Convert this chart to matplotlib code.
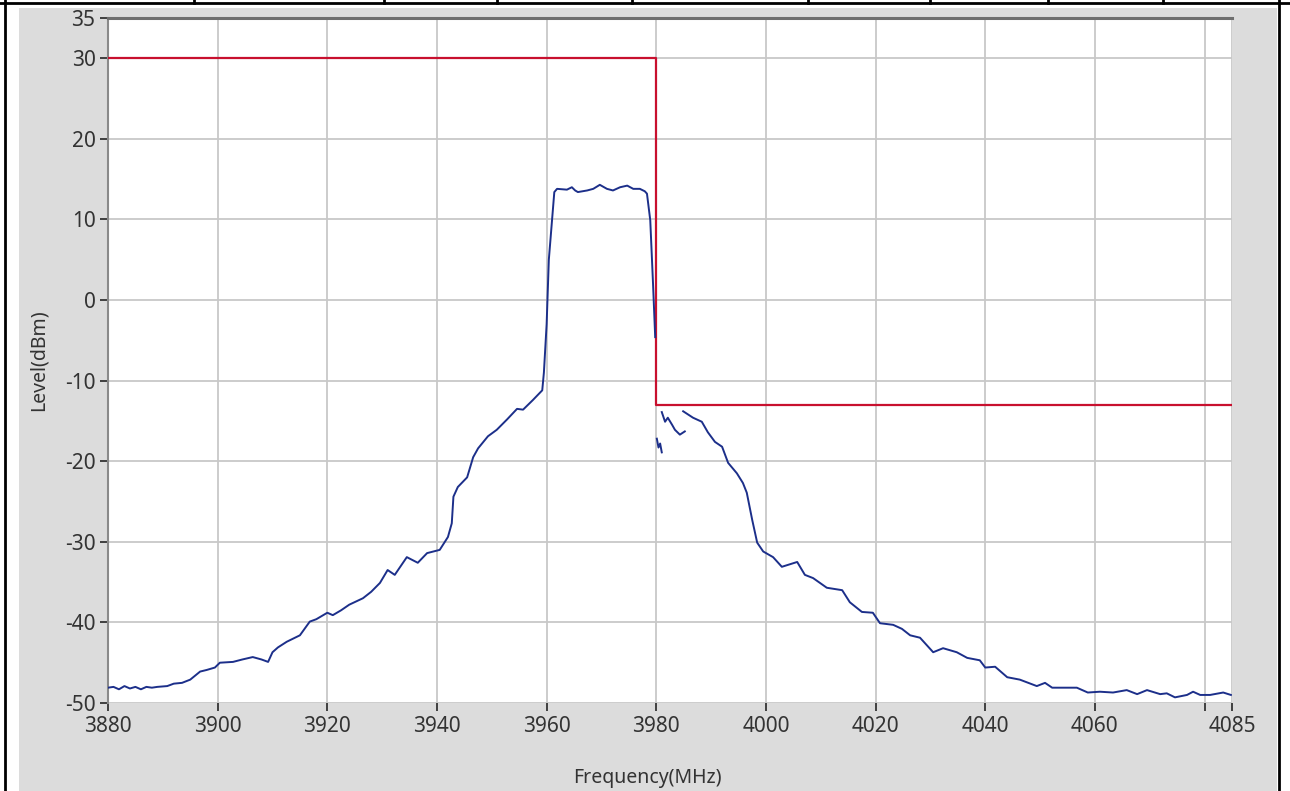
import numpy as np
import matplotlib.pyplot as plt
from matplotlib.patches import Rectangle
from matplotlib.lines import Line2D

plt.rcParams['font.family'] = ['Noto Sans', 'DejaVu Sans']
plt.rcParams['axes.unicode_minus'] = False

# spectrum trace (MHz, dBm); nan = gap in trace
trace_freq = [3880, 3881, 3882, 3883, 3884, 3885, 3886, 3887, 3888, 3889, 3890.8, 3892, 3893.5,
              3895, 3896.8, 3898, 3899.5, 3900.4, 3902.8, 3904.5, 3906.4, 3908, 3909.2, 3910,
              3911, 3912.6, 3915, 3916.8, 3918, 3920, 3921, 3922.5, 3924, 3926.5, 3928, 3929.6,
              3931, 3932.3, 3934.5, 3936.5, 3938.2, 3940.5, 3942, 3942.7, 3943, 3943.8, 3945.5,
              3946.6, 3947.5, 3949.3, 3950.9, 3952.8, 3954.6, 3955.7, 3957.5, 3959.2, 3959.5,
              3960.0, 3960.4, 3961.0, 3961.4, 3961.9, 3963.7, 3964.6, 3965.2, 3965.7, 3967.4,
              3968.5, 3969.7, 3971, 3972.1, 3973.4, 3974.7, 3975.8, 3977, 3977.9, 3978.3,
              3978.9, 3979.4, 3979.8,
              np.nan,
              3980.1, 3980.4, 3980.7, 3981.0,
              np.nan,
              3981.0, 3981.6, 3982.1, 3982.9, 3983.4, 3984.3, 3985.2,
              np.nan,
              3984.9, 3986.7, 3988.3, 3989.4, 3990.7, 3992, 3993.1, 3994.7, 3995.8, 3996.5,
              3997.5, 3998.4, 3999.5, 4001.3, 4002.9, 4005.7, 4007.1, 4008.6, 4011.1, 4013.9,
              4015.3, 4017.5, 4019.5, 4020.8, 4023.2, 4024.8, 4026.3, 4028.1, 4030.5, 4032.3,
              4034.8, 4036.7, 4039, 4040, 4041.8, 4044, 4046.3, 4049.4, 4050.9, 4052.2, 4054.9,
              4056.7, 4058.7, 4060.9, 4063.3, 4065.8, 4067.7, 4069.5, 4071.9, 4073.1, 4074.6,
              4076.8, 4077.9, 4079.2, 4081, 4083.4, 4084.8]
trace_level = [-48.1, -48.0, -48.3, -47.9, -48.2, -48.0, -48.3, -48.0, -48.1, -48.0, -47.9, -47.6, -47.5,
               -47.1, -46.1, -45.9, -45.6, -45.0, -44.9, -44.6, -44.3, -44.6, -44.9, -43.7,
               -43.1, -42.4, -41.6, -39.9, -39.6, -38.8, -39.1, -38.5, -37.8, -37.0, -36.2, -35.1,
               -33.5, -34.1, -31.9, -32.6, -31.4, -31.0, -29.4, -27.7, -24.4, -23.2, -22.0,
               -19.5, -18.4, -16.9, -16.1, -14.8, -13.5, -13.6, -12.4, -11.2, -9.0,
               -3.0, 5.0, 10.0, 13.4, 13.8, 13.7, 14.0, 13.6, 13.4, 13.6,
               13.8, 14.3, 13.8, 13.6, 14.0, 14.2, 13.8, 13.8, 13.5, 13.2,
               9.9, 2.1, -4.6,
               np.nan,
               -17.2, -18.3, -17.8, -18.9,
               np.nan,
               -13.9, -15.1, -14.6, -15.5, -16.1, -16.7, -16.3,
               np.nan,
               -13.8, -14.6, -15.1, -16.4, -17.6, -18.2, -20.2, -21.5, -22.7, -23.9,
               -27.3, -30.1, -31.2, -31.9, -33.1, -32.5, -34.1, -34.5, -35.7, -36.0,
               -37.5, -38.7, -38.8, -40.1, -40.3, -40.8, -41.6, -41.9, -43.7, -43.2,
               -43.7, -44.4, -44.7, -45.6, -45.5, -46.8, -47.1, -47.9, -47.5, -48.1, -48.1,
               -48.1, -48.7, -48.6, -48.7, -48.4, -48.9, -48.4, -48.9, -48.8, -49.3,
               -49.0, -48.6, -49.0, -49.0, -48.7, -49.0]

# limit mask
mask_freq = [3880, 3980, 3980, 4085]
mask_level = [30, 30, -13, -13]

xticks = [3880, 3900, 3920, 3940, 3960, 3980, 4000, 4020, 4040, 4060, 4080, 4085]
xlabels = ['3880', '3900', '3920', '3940', '3960', '3980', '4000', '4020', '4040', '4060', '', '4085']
yticks = [-50, -40, -30, -20, -10, 0, 10, 20, 30, 35]

fig = plt.figure(figsize=(12.9, 7.91), dpi=100)
fig.patch.set_facecolor('white')

W, H = 1290.0, 791.0
# gray panel behind the chart
fig.patches.append(Rectangle((19 / W, 0), (1277 - 19) / W, (H - 8) / H, transform=fig.transFigure,
                             facecolor='#dcdcdc', edgecolor='none', zorder=-5))
# black frame + top table row
for x0, y0, x1, y1 in [(5, 0, 5, H), (1279, 0, 1279, H), (0, 3, W, 3)]:
    fig.lines.append(Line2D([x0 / W, x1 / W], [1 - y0 / H, 1 - y1 / H], transform=fig.transFigure,
                            color='black', lw=2.0, zorder=-4))
for xd in [194, 384, 497, 632, 808, 930, 1048, 1163]:
    fig.lines.append(Line2D([xd / W, xd / W], [1, 1 - 3 / H], transform=fig.transFigure,
                            color='black', lw=2.0, zorder=-4))

ax = fig.add_axes([108 / W, 1 - 703 / H, (1232 - 108) / W, (703 - 18) / H])
ax.set_zorder(2)
ax.set_facecolor('white')

ax.plot(mask_freq, mask_level, color='#c8102e', lw=1.6, zorder=3)
ax.plot(trace_freq, trace_level, color='#1c2f8a', lw=1.4, zorder=4)

ax.set_xlim(3880, 4085)
ax.set_ylim(-50, 35)
ax.set_xticks(xticks)
ax.set_xticklabels(xlabels)
ax.set_yticks(yticks)
ax.grid(True, color='#c8c8c8', lw=1.3)
ax.set_axisbelow(True)

for s in ['right', 'bottom']:
    ax.spines[s].set_visible(False)
ax.spines['top'].set_color('#6e6e6e')
ax.spines['top'].set_linewidth(2.2)
ax.spines['left'].set_color('#8a8a8a')
ax.spines['left'].set_linewidth(1.5)

ax.tick_params(axis='both', direction='out', length=6, width=1.3, color='#333333',
               labelsize=15, labelcolor='#333333', pad=3)

ax.set_xlabel('Frequency(MHz)', fontsize=14, color='#333333', labelpad=14)
ax.xaxis.set_label_coords(0.48, -0.095)
ax.set_ylabel('Level(dBm)', fontsize=14, color='#333333', labelpad=12)

plt.savefig('out.png', dpi=100)
